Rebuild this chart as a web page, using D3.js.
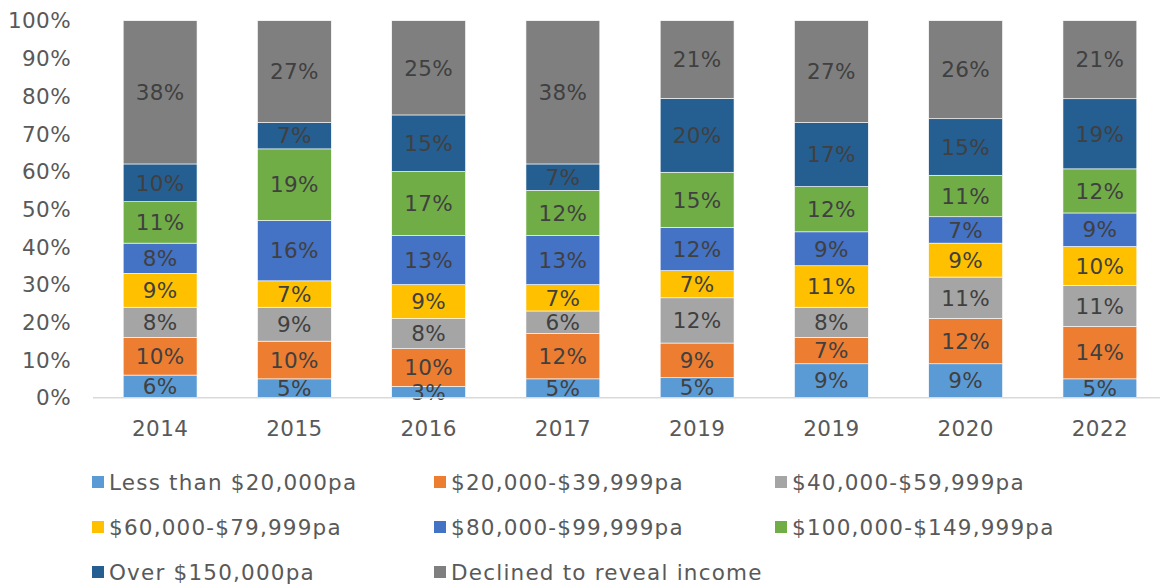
<!DOCTYPE html>
<html><head><meta charset="utf-8">
<script src="https://cdn.jsdelivr.net/npm/d3@7"></script>
<style>
html,body{margin:0;padding:0;background:#fff;}
svg{display:block;font-family:"DejaVu Sans",sans-serif;}
</style></head>
<body><svg id="c" width="1160" height="588"></svg>
<script>
const years = ["2014","2015","2016","2017","2019","2019","2020","2022"];
const seriesNames = ["Less than $20,000pa","$20,000-$39,999pa","$40,000-$59,999pa","$60,000-$79,999pa","$80,000-$99,999pa","$100,000-$149,999pa","Over $150,000pa","Declined to reveal income"];
const seriesColors = ["#5B9BD5","#ED7D31","#A5A5A5","#FFC000","#4472C4","#70AD47","#255E91","#7F7F7F"];
const lessThan20k   = [6, 5, 3, 5, 5.3, 9, 9, 5];
const from20to40k   = [10, 10, 10, 12, 9.2, 7, 12, 13.9];
const from40to60k   = [8, 9, 8, 6, 12.0, 8, 11, 10.9];
const from60to80k   = [9, 7, 9, 7, 7.2, 11, 9, 10.3];
const from80to100k  = [8, 16, 13, 13, 11.5, 9, 7, 8.9];
const from100to150k = [11, 19, 17, 12, 14.6, 12, 11, 11.7];
const over150k      = [10, 7, 15, 7, 19.6, 17, 15, 18.6];
const declined      = [38, 27, 25, 38, 20.6, 27, 26, 20.7];
const yTicks = [0,10,20,30,40,50,60,70,80,90,100];

const FS = 21.5, LS = "0.4px";
const seriesValues = [lessThan20k, from20to40k, from40to60k, from60to80k, from80to100k, from100to150k, over150k, declined];
const rows = years.map((y,i)=>{const r={idx:i}; seriesNames.forEach((s,j)=>r[s]=seriesValues[j][i]); return r;});
const stacked = d3.stack().keys(seriesNames)(rows);

const svg = d3.select("#c");
const x = d3.scaleBand().domain(d3.range(years.length)).range([93,1167]).paddingInner(0.45).paddingOuter(0.225);
const y = d3.scaleLinear().domain([0,100]).range([397.7,20.7]);

// y axis labels
svg.append("g").selectAll("text").data(yTicks).join("text")
  .attr("x",71).attr("y",d=>y(d)).attr("dy","0.36em").attr("text-anchor","end")
  .attr("fill","#595959").attr("font-size",FS).attr("letter-spacing",LS).text(d=>d+"%");

// bars
const g = svg.append("g");
stacked.forEach((s,j)=>{
  g.append("g").attr("fill",seriesColors[j]).selectAll("rect").data(s).join("rect")
    .attr("x",d=>x(d.data.idx)).attr("width",x.bandwidth())
    .attr("y",d=>y(d[1])).attr("height",d=>y(d[0])-y(d[1]))
    .attr("stroke","#ffffff").attr("stroke-width",0.6);
});
// labels
stacked.forEach((s,j)=>{
  g.append("g").selectAll("text").data(s).join("text")
    .attr("x",d=>x(d.data.idx)+x.bandwidth()/2).attr("y",d=>(y(d[0])+y(d[1]))/2)
    .attr("dy","0.36em").attr("text-anchor","middle").attr("fill","#404040").attr("font-size",FS).attr("letter-spacing",LS)
    .text(d=>Math.round(d[1]-d[0])+"%");
});

// x axis
const xa = svg.append("g").attr("transform","translate(0,397.7)")
  .call(d3.axisBottom(x).tickSize(0).tickPadding(23).tickFormat(i=>years[i]));
xa.select(".domain").attr("stroke","#D9D9D9").attr("stroke-width",1.5).attr("d","M93,0H1160");
xa.selectAll("text").attr("fill","#595959").attr("font-size",FS).attr("letter-spacing",LS).attr("font-family","DejaVu Sans");

// legend
const legPos = [[92,482],[434,482],[775,482],[92,527],[434,527],[775,527],[92,572],[434,572]];
const lg = svg.append("g").selectAll("g").data(seriesNames).join("g")
  .attr("transform",(d,i)=>`translate(${legPos[i][0]},${legPos[i][1]})`);
lg.append("rect").attr("x",0).attr("y",-6).attr("width",12).attr("height",12).attr("fill",(d,i)=>seriesColors[i]);
lg.append("text").attr("x",17).attr("y",0).attr("dy","0.36em").attr("fill","#595959").attr("font-size",FS).attr("letter-spacing","1.2px").text(d=>d);
</script></body></html>
